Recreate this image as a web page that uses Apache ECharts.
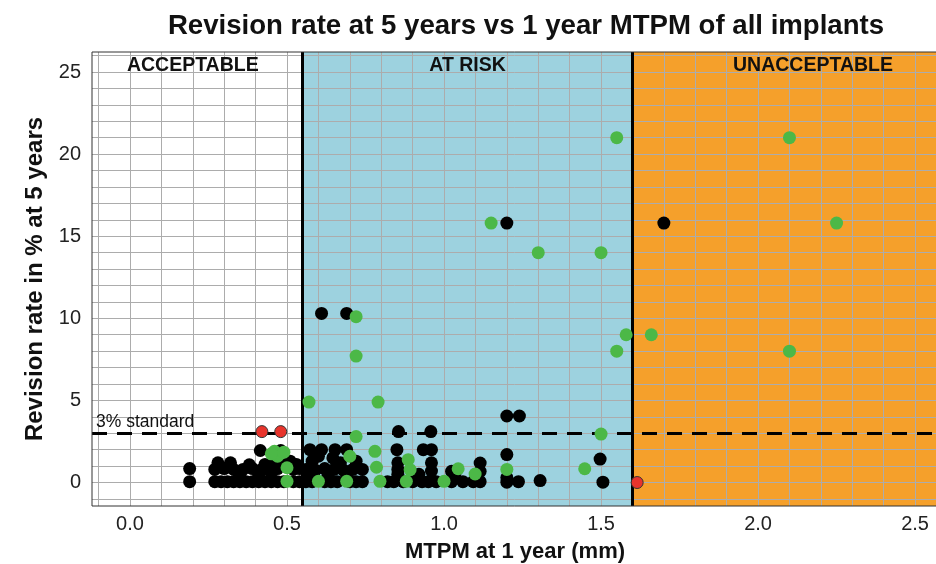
<!DOCTYPE html>
<html>
<head>
<meta charset="utf-8">
<title>Revision rate vs MTPM</title>
<script src="https://cdn.jsdelivr.net/npm/echarts@6/dist/echarts.min.js"></script>
<style>
  html, body { margin: 0; padding: 0; background: #fff; }
  #chart_container { width: 936px; height: 564px; }
</style>
</head>
<body>
<div id="chart_container"></div>
<script>
  // tick labels
  var xTicks = [0, 0.5, 1, 1.5, 2, 2.5]
  var yTicks = [0, 5, 10, 15, 20, 25]

  // zone limits and labels
  var zoneBreaks = [0.55, 1.6]
  var zoneLabels = [[0.2, 25.4, 'ACCEPTABLE'], [1.075, 25.4, 'AT RISK'], [2.175, 25.4, 'UNACCEPTABLE']]
  var standardLine = 3

  // points: [MTPM, revision rate]
  var blackPts = [
    [1.2, 15.8], [1.7, 15.8], [0.61, 10.3], [0.69, 10.3], [1.2, 4.05], [1.24, 4.05], [0.855, 3.1], [0.958, 3.1],
    [0.19, 0.85], [0.19, 0.05],
    [0.27, 0.05], [0.29, 0.05], [0.31, 0.05], [0.33, 0.05], [0.35, 0.05], [0.37, 0.05], [0.39, 0.05], [0.41, 0.05],
    [0.43, 0.05], [0.45, 0.05], [0.47, 0.05], [0.49, 0.05], [0.52, 0.05], [0.54, 0.05],
    [0.27, 0.8], [0.3, 0.85], [0.33, 0.8], [0.36, 0.8], [0.39, 0.85], [0.42, 0.8], [0.44, 0.8], [0.47, 0.85],
    [0.52, 0.8], [0.54, 0.85],
    [0.28, 1.2], [0.32, 1.2], [0.38, 1.08], [0.35, 0.5], [0.41, 0.4], [0.43, 1.1], [0.45, 0.6], [0.46, 1.2],
    [0.48, 1.1], [0.51, 1.3], [0.53, 1.1], [0.415, 1.95], [0.48, 1.95], [0.467, 1.5],
    [0.573, 2.0], [0.61, 2.0], [0.653, 2.0], [0.69, 2.0], [0.646, 1.5], [0.58, 1.3], [0.6, 1.6], [0.67, 1.2], [0.72, 1.3],
    [0.56, 0.8], [0.59, 0.75], [0.62, 0.85], [0.65, 0.8], [0.68, 0.75], [0.71, 0.8], [0.74, 0.8],
    [0.56, 0.05], [0.58, 0.05], [0.62, 0.05], [0.64, 0.05], [0.66, 0.05], [0.7, 0.05], [0.72, 0.05], [0.74, 0.05],
    [0.57, 0.4], [0.63, 0.4], [0.69, 0.5],
    [0.85, 2.0], [0.853, 1.2], [0.853, 0.8], [0.853, 0.5], [0.82, 0.05], [0.84, 0.05], [0.87, 0.05], [0.9, 0.05],
    [0.93, 0.05], [0.95, 0.05], [0.975, 0.05], [0.934, 2.0], [0.96, 2.0], [0.96, 1.2], [0.96, 0.7], [0.92, 0.5],
    [1.024, 0.68], [1.024, 0.05], [1.035, 0.56], [1.06, 0.05], [1.093, 0.05], [1.115, 1.19], [1.115, 0.68], [1.115, 0.05],
    [1.2, 1.7], [1.2, 0.3], [1.2, 0.02], [1.237, 0.05], [1.306, 0.12], [1.497, 1.43], [1.506, 0.02]
  ]
  var greenPts = [
    [1.55, 21], [2.1, 21], [1.15, 15.8], [2.25, 15.8], [1.3, 14], [1.5, 14], [0.72, 10.1], [1.58, 9.0], [1.66, 9.0],
    [1.55, 8.0], [2.1, 8.0], [0.72, 7.7], [0.57, 4.9], [0.79, 4.9], [0.72, 2.8], [1.5, 2.95],
    [0.46, 1.9], [0.47, 1.6], [0.49, 1.85], [0.45, 1.75], [0.5, 0.9], [0.5, 0.07], [0.6, 0.07], [0.7, 1.6],
    [0.69, 0.07], [0.78, 1.9], [0.785, 0.93], [0.796, 0.07], [0.886, 1.39], [0.892, 0.78], [0.88, 0.07],
    [1.0, 0.07], [1.045, 0.84], [1.099, 0.52], [1.2, 0.8], [1.448, 0.84]
  ]
  var redPts = [[0.42, 3.1], [0.48, 3.1], [1.615, 0.0]]

  var xMin = -0.121, xMax = 2.573, yMin = -1.43, yMax = 26.22

  // light grid every 0.1 mm and every 1 %
  var gridLines = []
  for (var i = -1; i <= 25; i++) gridLines.push({ xAxis: i / 10 })
  for (var j = -1; j <= 26; j++) gridLines.push({ yAxis: j })

  var font = "'Liberation Sans', Arial, sans-serif"

  var chart = echarts.init(document.getElementById('chart_container'), null, { renderer: 'canvas' })
  chart.setOption({
    animation: false,
    textStyle: { fontFamily: font },
    title: {
      text: 'Revision rate at 5 years vs 1 year MTPM of all implants',
      left: 521,
      textAlign: 'center',
      top: 7,
      textStyle: { fontSize: 27.6, fontWeight: 'bold', color: '#111', fontFamily: font }
    },
    grid: {
      left: 92, right: -2, top: 52, bottom: 58,
      outerBoundsMode: 'none', containLabel: false,
      show: true, borderColor: '#333', borderWidth: 1, backgroundColor: 'transparent', z: 10
    },
    xAxis: {
      type: 'value', min: xMin, max: xMax,
      name: 'MTPM at 1 year (mm)', nameLocation: 'middle', nameGap: 35,
      nameTextStyle: { fontSize: 22, fontWeight: 'bold', color: '#111' },
      axisLine: { show: false },
      axisTick: { show: true, customValues: xTicks, length: 4, lineStyle: { color: '#333' } },
      axisLabel: { customValues: xTicks, formatter: function (v) { return v.toFixed(1) }, fontSize: 20, color: '#222', margin: 8 },
      splitLine: { show: false }
    },
    yAxis: {
      type: 'value', min: yMin, max: yMax,
      name: 'Revision rate in % at 5 years', nameLocation: 'middle', nameGap: 39,
      nameTextStyle: { fontSize: 24, fontWeight: 'bold', color: '#111' },
      axisLine: { show: false },
      axisTick: { show: true, customValues: yTicks, length: 4, lineStyle: { color: '#333' } },
      axisLabel: { customValues: yTicks, fontSize: 20, color: '#222', margin: 11 },
      splitLine: { show: false }
    },
    series: [
      {
        name: 'zones', type: 'line', data: [], z: 0, silent: true,
        markArea: {
          silent: true, z: 0,
          data: [
            [{ xAxis: xMin, itemStyle: { color: '#ffffff' } }, { xAxis: zoneBreaks[0] }],
            [{ xAxis: zoneBreaks[0], itemStyle: { color: '#9dd2df' } }, { xAxis: zoneBreaks[1] }],
            [{ xAxis: zoneBreaks[1], itemStyle: { color: '#f5a02b' } }, { xAxis: xMax }]
          ]
        }
      },
      {
        name: 'gridlines', type: 'line', data: [], z: 1, silent: true,
        markLine: {
          silent: true, z: 1, symbol: 'none', label: { show: false },
          lineStyle: { color: '#acacac', width: 1, type: 'solid' },
          data: gridLines
        }
      },
      {
        name: 'limits', type: 'line', data: [], z: 2, silent: true,
        markLine: {
          silent: true, z: 2, symbol: 'none',
          data: [
            { xAxis: zoneBreaks[0], label: { show: false }, lineStyle: { color: '#000', width: 3, type: 'solid' } },
            { xAxis: zoneBreaks[1], label: { show: false }, lineStyle: { color: '#000', width: 3, type: 'solid' } },
            {
              yAxis: standardLine,
              lineStyle: { color: '#000', width: 3, type: [15, 10] },
              label: {
                show: true, position: 'insideStartTop', formatter: '3% standard', fontSize: 17.5, color: '#111',
                distance: [4, 2], textBorderWidth: 0
              }
            }
          ]
        }
      },
      { name: 'black', type: 'scatter', data: blackPts, z: 3, symbolSize: 13, itemStyle: { color: '#000', opacity: 1 } },
      { name: 'green', type: 'scatter', data: greenPts, z: 4, symbolSize: 13, itemStyle: { color: '#4cb847', opacity: 1 } },
      { name: 'red', type: 'scatter', data: redPts, z: 5, symbolSize: 12, itemStyle: { color: '#e8342c', borderColor: '#333', borderWidth: 1, opacity: 1 } }
    ]
  })

  // zone names placed through the chart's own scales
  chart.setOption({
    graphic: zoneLabels.map(function (d) {
      var p = chart.convertToPixel({ gridIndex: 0 }, [d[0], d[1]])
      return {
        type: 'text', x: p[0], y: p[1], z: 100, silent: true,
        style: { text: d[2], fill: '#111', font: 'bold 19.5px ' + font, align: 'center', verticalAlign: 'middle' }
      }
    })
  })
</script>
</body>
</html>
